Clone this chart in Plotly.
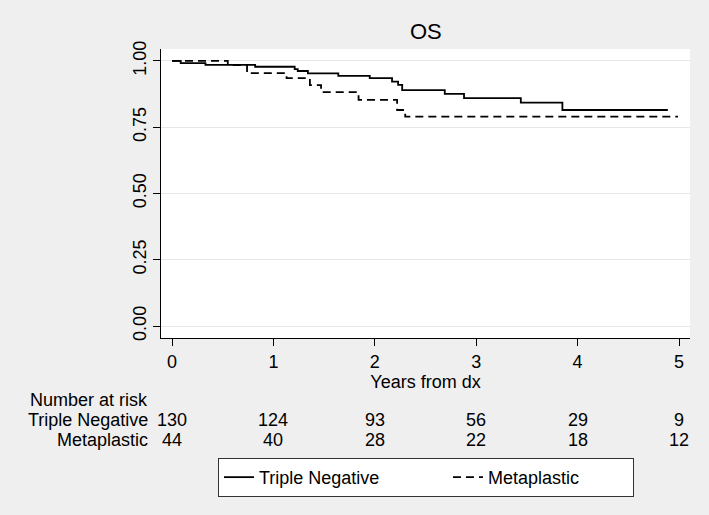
import plotly.graph_objects as go

# Kaplan-Meier step data
tn_time = [0, 0.086, 0.33, 0.82, 1.21, 1.24, 1.34, 1.64, 1.95, 2.17, 2.23, 2.27, 2.69, 2.88, 3.44, 3.85, 4.89]
tn_surv = [1.0, 0.992, 0.985, 0.978, 0.969, 0.962, 0.953, 0.944, 0.935, 0.922, 0.910, 0.890, 0.876, 0.860, 0.843, 0.815, 0.815]

mp_time = [0, 0.55, 0.74, 1.13, 1.36, 1.47, 1.84, 2.22, 2.30, 4.99]
mp_surv = [1.0, 0.984, 0.954, 0.935, 0.909, 0.882, 0.853, 0.815, 0.790, 0.790]

risk_times = [0, 1, 2, 3, 4, 5]
risk_tn = [130, 124, 93, 56, 29, 9]
risk_mp = [44, 40, 28, 22, 18, 12]

y_ticks = [0, 0.25, 0.5, 0.75, 1.0]
y_ticklabels = ["0.00", "0.25", "0.50", "0.75", "1.00"]

FONT = "Liberation Sans, Arial, sans-serif"
BG = "#EFEFEF"

fig = go.Figure()
fig.add_trace(go.Scatter(x=tn_time, y=tn_surv, mode="lines", line_shape="hv",
                         line=dict(color="black", width=1.8), name="Triple Negative",
                         legendwidth=184))
fig.add_trace(go.Scatter(x=mp_time, y=mp_surv, mode="lines", line_shape="hv",
                         line=dict(color="black", width=1.8, dash="8px,5px"), name="Metaplastic",
                         legendwidth=140))

annotations = [dict(text="OS", x=0.5, xref="paper", y=(338 - 32) / 289, yref="paper",
                    xanchor="center", yanchor="middle", showarrow=False, font=dict(size=22))]

# number-at-risk table
row_y = {"hdr": -0.2145, "tn": -0.284, "mp": -0.353}
for key, label in [("hdr", "Number at risk"), ("tn", "Triple Negative"), ("mp", "Metaplastic")]:
    annotations.append(dict(text=label, xref="paper", x=-0.0208, yref="paper", y=row_y[key],
                            xanchor="right", yanchor="middle", showarrow=False))
for t, a, b in zip(risk_times, risk_tn, risk_mp):
    annotations.append(dict(text=str(a), x=t, xref="x", yref="paper", y=row_y["tn"],
                            xanchor="center", yanchor="middle", showarrow=False))
    annotations.append(dict(text=str(b), x=t, xref="x", yref="paper", y=row_y["mp"],
                            xanchor="center", yanchor="middle", showarrow=False))

fig.update_layout(
    width=709, height=515,
    margin=dict(l=161, r=19, t=49, b=177),
    paper_bgcolor=BG, plot_bgcolor="white",
    font=dict(family=FONT, size=18, color="black"),
    showlegend=True,
    legend=dict(orientation="h", x=0.1077, xanchor="left", y=-0.415, yanchor="top",
                bgcolor="white", bordercolor="#333333", borderwidth=1,
                font=dict(size=18), itemwidth=30),
    annotations=annotations,
    xaxis=dict(range=[-0.1085, 5.1085], tickvals=risk_times, ticks="outside", ticklen=7,
               tickcolor="black", showline=True, linecolor="black", linewidth=1.3,
               showgrid=False, zeroline=False, mirror=False,
               title=dict(text="Years from dx", standoff=2, font=dict(size=18))),
    yaxis=dict(range=[-0.045, 1.045], tickvals=y_ticks, ticktext=y_ticklabels, tickangle=-90,
               ticks="outside", ticklen=7, tickcolor="black", showline=True, linecolor="black",
               linewidth=1.3, showgrid=True, gridcolor="#E6E6E6", gridwidth=1, zeroline=False),
)

fig.write_html("out.html", config={"displayModeBar": False},
               post_script="document.body.style.margin='0';")
